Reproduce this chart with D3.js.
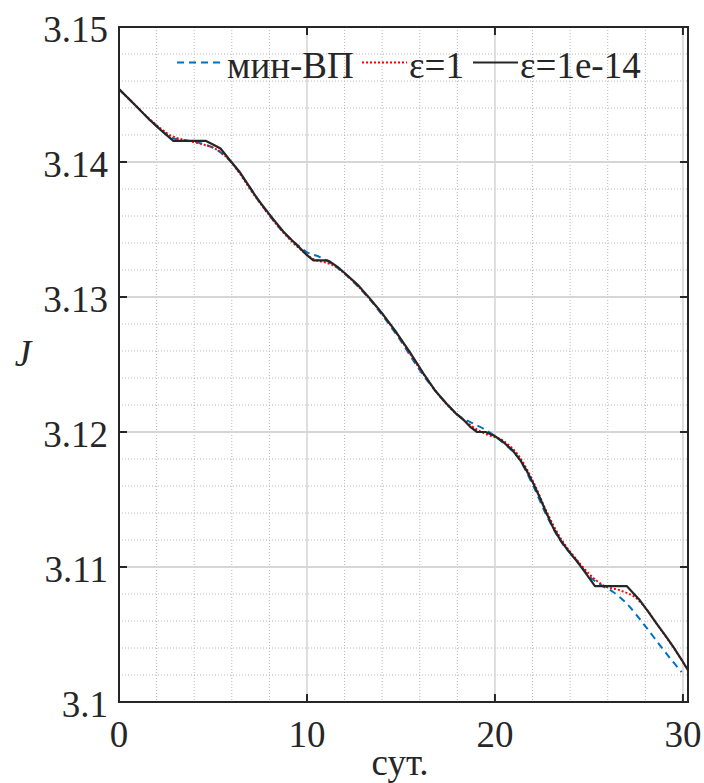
<!DOCTYPE html>
<html>
<head>
<meta charset="utf-8">
<script src="https://cdn.jsdelivr.net/npm/d3@7"></script>
<style>
  html, body { margin: 0; padding: 0; background: #fff; }
  svg { display: block; }
</style>
</head>
<body>
<svg id="chart" width="704" height="783"></svg>
<script>
// ---- data ----
const seriesNames = ["мин-ВП", "ε=1", "ε=1e-14"];
const xTicks = [0, 10, 20, 30];
const yTicks = [3.10, 3.11, 3.12, 3.13, 3.14, 3.15];
const yTickLabels = ["3.1", "3.11", "3.12", "3.13", "3.14", "3.15"];
const xLabel = "сут.";
const yLabel = "J";

const minVP = [
  [0, 3.1454], [0.8, 3.1443], [1.65, 3.1431], [2.2, 3.1424], [2.89, 3.14175],
  [3.6, 3.1416], [4.31, 3.1414], [5.2, 3.1409], [5.9, 3.1401], [6.97, 3.1381],
  [7.86, 3.1363], [8.74, 3.1348], [9.63, 3.1337], [9.98, 3.13333], [10.69, 3.13296],
  [11.22, 3.13255], [12.11, 3.1316], [13.35, 3.1298], [14.77, 3.1272], [16.19, 3.1242],
  [17.43, 3.1221], [18.05, 3.12124], [18.85, 3.12062], [19.47, 3.12018], [20.44, 3.1192],
  [21.33, 3.1179], [22.04, 3.1160], [22.75, 3.1138], [23.46, 3.1120], [24.34, 3.1105],
  [25.05, 3.10926], [25.6, 3.1087], [26.29, 3.10815], [27.01, 3.10729], [27.89, 3.10581],
  [28.78, 3.10420], [29.4, 3.1031], [29.93, 3.10222]
];

const eps1 = [
  [0, 3.1454], [0.8, 3.1443], [1.65, 3.14315], [2.2, 3.1425], [2.71, 3.14198],
  [3.42, 3.14166], [4.31, 3.14136], [5.2, 3.14092], [5.9, 3.14010], [6.4, 3.1392],
  [6.97, 3.1380], [7.86, 3.13630], [8.74, 3.13478], [9.63, 3.13355], [10.34, 3.13280],
  [11.0, 3.13255], [11.4, 3.13235], [12.11, 3.13160], [13.35, 3.12985], [14.77, 3.12730],
  [16.19, 3.12430], [17.43, 3.12205], [18.31, 3.12092], [19.05, 3.12018], [19.6, 3.1198],
  [20.44, 3.11935], [21.33, 3.11810], [22.04, 3.11630], [22.75, 3.11410], [23.46, 3.11220],
  [24.34, 3.11055], [25.0, 3.1095], [25.76, 3.10864], [26.65, 3.10827], [27.54, 3.10766],
  [28.24, 3.10655], [28.6, 3.1058], [29.48, 3.10408], [30.27, 3.10235]
];

const eps14 = [
  [0, 3.1454], [0.8, 3.1443], [1.65, 3.1431], [2.2, 3.1424], [2.89, 3.14156],
  [4.63, 3.14156], [5.0, 3.1413], [5.4, 3.1410], [5.9, 3.14013], [6.4, 3.1393],
  [6.97, 3.13810], [7.4, 3.1372], [7.86, 3.13638], [8.3, 3.1356], [8.74, 3.13485],
  [9.2, 3.1342], [9.63, 3.13362], [10.0, 3.1331], [10.34, 3.13272], [11.05, 3.13272],
  [11.22, 3.13262], [11.7, 3.13215], [12.11, 3.13165], [12.7, 3.1309], [13.35, 3.12988],
  [14.05, 3.1287], [14.77, 3.12735], [15.48, 3.1259], [16.19, 3.12435], [16.8, 3.1231],
  [17.43, 3.12210], [17.9, 3.1214], [18.31, 3.12092], [18.67, 3.12040], [19.05, 3.12000],
  [19.5, 3.12000], [20.0, 3.1197], [20.44, 3.11926], [20.9, 3.1187], [21.33, 3.11795],
  [21.7, 3.1171], [22.04, 3.11618], [22.4, 3.1151], [22.75, 3.11396], [23.1, 3.1129],
  [23.46, 3.11205], [23.9, 3.1112], [24.34, 3.11045], [24.8, 3.1096], [25.32, 3.10859],
  [27.01, 3.10859], [27.4, 3.1080], [27.71, 3.10753], [28.15, 3.1067], [28.6, 3.10581],
  [29.05, 3.10495], [29.48, 3.10410], [29.9, 3.1032], [30.27, 3.10235]
];

// ---- layout ----
const FONT = "'Liberation Serif', 'Times New Roman', serif";
const L = 119, R = 688, T = 27, B = 702;
const svg = d3.select("#chart");
const x = d3.scaleLinear().domain([0, 30.27]).range([L, R]);
const y = d3.scaleLinear().domain([3.10, 3.15]).range([B, T]);

svg.append("defs").append("clipPath").attr("id", "clip")
  .append("rect").attr("x", L).attr("y", T).attr("width", R - L).attr("height", B - T);

// minor grid
const xMinor = d3.range(2, 30.27, 2).filter(v => v % 10 !== 0);
const yMinor = d3.range(3.102, 3.1499, 0.002).filter(v => Math.abs(Math.round(v * 100) - v * 100) > 1e-6);
const grid = svg.append("g");
grid.selectAll(".xm").data(xMinor).join("line")
  .attr("x1", d => x(d)).attr("x2", d => x(d)).attr("y1", T).attr("y2", B)
  .attr("stroke", "#b8b8b8").attr("stroke-width", 1).attr("stroke-dasharray", "1,2");
grid.selectAll(".ym").data(yMinor).join("line")
  .attr("x1", L).attr("x2", R).attr("y1", d => y(d)).attr("y2", d => y(d))
  .attr("stroke", "#b8b8b8").attr("stroke-width", 1).attr("stroke-dasharray", "1,2");
// major grid
grid.selectAll(".xM").data(xTicks.filter(d => d > 0)).join("line")
  .attr("x1", d => x(d)).attr("x2", d => x(d)).attr("y1", T).attr("y2", B)
  .attr("stroke", "#d6d6d6").attr("stroke-width", 1.6);
grid.selectAll(".yM").data(yTicks.filter(d => d > 3.1 && d < 3.15)).join("line")
  .attr("x1", L).attr("x2", R).attr("y1", d => y(d)).attr("y2", d => y(d))
  .attr("stroke", "#d6d6d6").attr("stroke-width", 1.8);

// series
const lineSmooth = d3.line().x(d => x(d[0])).y(d => y(d[1])).curve(d3.curveMonotoneX);
const lineSharp = d3.line().x(d => x(d[0])).y(d => y(d[1])).curve(d3.curveLinear);
const plot = svg.append("g").attr("clip-path", "url(#clip)");
plot.append("path").datum(minVP).attr("d", lineSmooth)
  .attr("fill", "none").attr("stroke", "#0072BD").attr("stroke-width", 2).attr("stroke-dasharray", "7,5");
plot.append("path").datum(eps1).attr("d", lineSmooth)
  .attr("fill", "none").attr("stroke", "#FF0000").attr("stroke-width", 2).attr("stroke-dasharray", "2,2");
plot.append("path").datum(eps14).attr("d", lineSharp)
  .attr("fill", "none").attr("stroke", "#262626").attr("stroke-width", 2.2).attr("stroke-linejoin", "round");

// axes box & ticks
const ax = svg.append("g").attr("stroke", "#262626").attr("stroke-width", 2);
ax.append("rect").attr("x", L).attr("y", T).attr("width", R - L).attr("height", B - T).attr("fill", "none");
const tl = 8;
xTicks.forEach(t => {
  ax.append("line").attr("x1", x(t)).attr("x2", x(t)).attr("y1", B).attr("y2", B - tl);
  ax.append("line").attr("x1", x(t)).attr("x2", x(t)).attr("y1", T).attr("y2", T + tl);
});
yTicks.forEach(t => {
  ax.append("line").attr("x1", L).attr("x2", L + tl).attr("y1", y(t)).attr("y2", y(t));
  ax.append("line").attr("x1", R).attr("x2", R - tl).attr("y1", y(t)).attr("y2", y(t));
});

// text
const fs = 37;
const txt = svg.append("g").attr("font-family", FONT).attr("fill", "#262626");
txt.append("g").selectAll("text").data(xTicks).join("text")
  .attr("x", d => x(d)).attr("y", 746.5).attr("text-anchor", "middle")
  .attr("font-size", fs).text(d => d);
txt.append("g").selectAll("text").data(yTicks).join("text")
  .attr("x", 108).attr("y", d => y(d) + 14.5).attr("text-anchor", "end")
  .attr("font-size", fs).text((d, i) => yTickLabels[i]);

txt.append("text").attr("x", 400).attr("y", 775).attr("text-anchor", "middle")
  .attr("font-size", fs).text(xLabel);
txt.append("text").attr("x", 23).attr("y", 366).attr("text-anchor", "middle")
  .attr("font-size", fs).attr("font-style", "italic").text(yLabel);

// legend
const legY = 62.5, legBase = 78.3;
const leg = [
  { x1: 177, x2: 225, tx: 227, color: "#0072BD", dash: "7,5" },
  { x1: 362, x2: 407, tx: 409, color: "#FF0000", dash: "2,2" },
  { x1: 473, x2: 518, tx: 520, color: "#262626", dash: null }
];
leg.forEach((l, i) => {
  const ln = svg.append("line").attr("x1", l.x1).attr("x2", l.x2).attr("y1", legY).attr("y2", legY)
    .attr("stroke", l.color).attr("stroke-width", 2);
  if (l.dash) ln.attr("stroke-dasharray", l.dash);
  txt.append("text").attr("x", l.tx).attr("y", legBase).attr("font-size", fs).text(seriesNames[i]);
});
</script>
</body>
</html>
